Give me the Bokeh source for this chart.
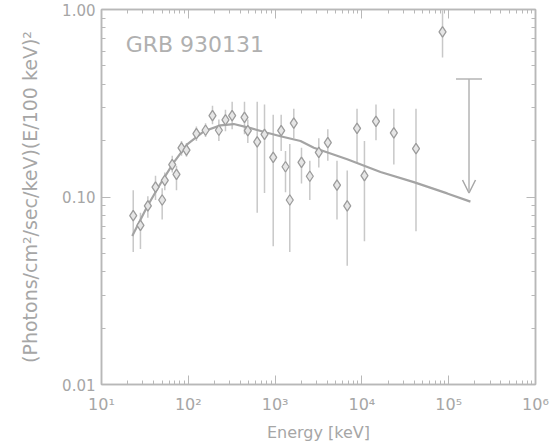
from bokeh.plotting import figure
from bokeh.models import (LogAxis, FixedTicker, CustomJSTickFormatter, Label, Arrow,
                          OpenHead, ColumnDataSource, Range1d)
from bokeh.embed import file_html
from bokeh.resources import INLINE

# ---------------- data ----------------
energy_kev = [23.2, 28.1, 34.2, 41.9, 50.0, 53.6, 65.3, 73.1, 83.5, 95.3,
              124, 158, 190, 225, 268, 320, 444, 485, 622, 755,
              951, 1175, 1318, 1476, 1642, 2014, 2511, 3187, 4048, 5164,
              6776, 8790, 10700, 14530, 23330, 42000, 84900]
flux = [0.0795, 0.0705, 0.0897, 0.1128, 0.0964, 0.1227, 0.149, 0.132, 0.183, 0.178,
        0.218, 0.227, 0.272, 0.227, 0.258, 0.272, 0.266, 0.226, 0.197, 0.216,
        0.1625, 0.226, 0.145, 0.0964, 0.248, 0.153, 0.129, 0.173, 0.195, 0.1156,
        0.0897, 0.232, 0.130, 0.253, 0.220, 0.181, 0.760]
flux_hi = [0.1088, 0.0824, 0.101, 0.130, 0.1115, 0.135, 0.166, 0.147, 0.199, 0.194,
           0.238, 0.247, 0.307, 0.259, 0.292, 0.322, 0.322, 0.259, 0.322, 0.311,
           0.275, 0.275, 0.176, 0.192, 0.296, 0.183, 0.156, 0.206, 0.230, 0.156,
           0.1385, 0.296, 0.199, 0.311, 0.296, 0.296, 0.99]
flux_lo = [0.0509, 0.0528, 0.0776, 0.0964, 0.0758, 0.1088, 0.135, 0.1088, 0.166, 0.164,
           0.199, 0.209, 0.244, 0.199, 0.224, 0.230, 0.216, 0.194, 0.0824, 0.105,
           0.0547, 0.176, 0.106, 0.0509, 0.206, 0.118, 0.0964, 0.1436, 0.156, 0.0758,
           0.0430, 0.151, 0.0581, 0.201, 0.149, 0.0656, 0.554]

# upper limit
ul_energy = [171400]
ul_top = [0.426]
ul_tip = [0.105]

# fitted model curve
model_energy = [22.6, 33.6, 47.9, 68.1, 97, 151, 235, 334, 521, 811,
                1153, 1963, 2793, 6770, 16370, 39600, 96100, 178000]
model_flux = [0.0620, 0.0890, 0.118, 0.153, 0.191, 0.224, 0.241, 0.245, 0.233, 0.220,
              0.211, 0.199, 0.183, 0.159, 0.136, 0.120, 0.1045, 0.0945]

x_ticks = [1e1, 1e2, 1e3, 1e4, 1e5, 1e6]
x_tick_labels = ["10\u00b9", "10\u00b2", "10\u00b3", "10\u2074", "10\u2075", "10\u2076"]
y_ticks = [0.01, 0.1, 1.0]
y_tick_labels = ["0.01", "0.10", "1.00"]

title_text = "GRB 930131"
x_label = "Energy [keV]"
y_label = "(Photons/cm\u00b2/sec/keV)(E/100 keV)\u00b2"

# minor tick positions (2..9 in every decade)
x_minor = [m * t for t in x_ticks[:-1] for m in range(2, 10)]
y_minor = [m * t for t in y_ticks[:-1] for m in range(2, 10)]

# ---------------- styling ----------------
TXT = "#a6a6a6"
AX = "#b8b8b8"
FONT = "DejaVu Sans"

p = figure(width=556, height=444, x_axis_type="log", y_axis_type="log",
           x_range=Range1d(10, 1e6), y_range=Range1d(0.01, 1.0),
           output_backend="svg", toolbar_location=None,
           min_border_left=101, min_border_right=21,
           min_border_top=9, min_border_bottom=56)
p.background_fill_color = "white"
p.border_fill_color = "white"
p.grid.visible = False
p.outline_line_color = AX
p.outline_line_width = 1.5

xfmt = CustomJSTickFormatter(args=dict(labels=x_tick_labels),
                             code="const i = Math.round(Math.log10(tick)) - 1; return labels[i] ?? '';")
yfmt = CustomJSTickFormatter(args=dict(labels=y_tick_labels),
                             code="const i = Math.round(Math.log10(tick)) + 2; return labels[i] ?? '';")
blank = CustomJSTickFormatter(code="return ' ';")

def style_axis(ax, show_labels):
    ax.axis_line_color = AX
    ax.axis_line_width = 1.5
    ax.major_tick_line_color = AX
    ax.minor_tick_line_color = AX
    ax.major_tick_in = 9
    ax.major_tick_out = 0
    ax.minor_tick_in = 4
    ax.minor_tick_out = 0
    if show_labels:
        ax.major_label_text_color = TXT
        ax.major_label_text_font = FONT
        ax.axis_label_text_color = TXT
        ax.axis_label_text_font = FONT
        ax.axis_label_text_font_style = "normal"
    else:
        ax.formatter = blank
        ax.major_label_text_font_size = "2px"
        ax.major_label_text_alpha = 0
        ax.major_label_standoff = 0

xb = p.xaxis[0]
xb.ticker = FixedTicker(ticks=x_ticks, minor_ticks=x_minor)
xb.formatter = xfmt
style_axis(xb, True)
xb.major_label_text_font_size = "16px"
xb.major_label_standoff = 10
xb.axis_label = x_label
xb.axis_label_text_font_size = "16px"
xb.axis_label_standoff = 6

yl = p.yaxis[0]
yl.ticker = FixedTicker(ticks=y_ticks, minor_ticks=y_minor)
yl.formatter = yfmt
style_axis(yl, True)
yl.major_label_text_font_size = "15px"
yl.major_label_standoff = 6
yl.axis_label = y_label
yl.axis_label_text_font_size = "19px"
yl.axis_label_standoff = 18

xt = LogAxis(ticker=FixedTicker(ticks=x_ticks, minor_ticks=x_minor))
style_axis(xt, False)
p.add_layout(xt, "above")
yr = LogAxis(ticker=FixedTicker(ticks=y_ticks, minor_ticks=y_minor))
style_axis(yr, False)
p.add_layout(yr, "right")

# error bars
src = ColumnDataSource(dict(e=energy_kev, f=flux, lo=flux_lo, hi=flux_hi))
p.segment(x0="e", y0="lo", x1="e", y1="hi", source=src,
          line_color="#c8c8c8", line_width=1.5)

# model
p.line(model_energy, model_flux, line_color="#a4a4a4", line_width=2.2)

# data points
p.scatter(x="e", y="f", source=src, marker="diamond", size=10.5,
          fill_color="#e6e6e6", line_color="#9c9c9c", line_width=1.3)

# upper limit
p.scatter(ul_energy, ul_top, marker="dash", size=26, line_color="#b4b4b4", line_width=1.5)
p.add_layout(Arrow(x_start=ul_energy[0], y_start=ul_top[0], x_end=ul_energy[0], y_end=ul_tip[0],
                   line_color="#b4b4b4", line_width=1.5,
                   end=OpenHead(size=13, line_color="#a8a8a8", line_width=1.5)))

# title label
p.add_layout(Label(x=19, y=0.648, text=title_text, text_font=FONT, text_font_size="22px",
                   text_color="#b0b0b0", text_baseline="middle", text_align="left"))

open("out.html", "w").write(file_html(p, INLINE))
